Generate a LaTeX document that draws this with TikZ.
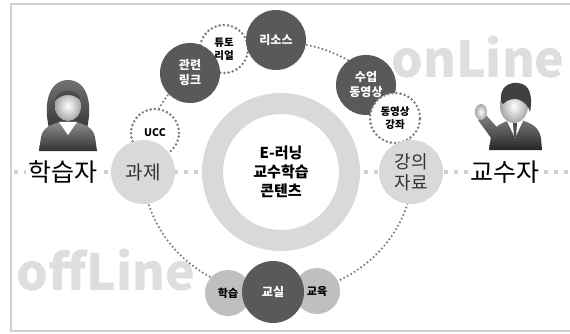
\documentclass[tikz,border=0pt]{standalone}
\usepackage{fontspec}
\setmainfont{Noto Sans CJK KR}
\usetikzlibrary{positioning}

\begin{document}
\begin{tikzpicture}[x=1pt,y=-1pt,
    darkball/.style={circle, fill=ballgrey, text=white, minimum size=60pt, inner sep=0pt, font=\fontsize{12}{15}\selectfont\bfseries, align=center},
    dotball/.style={circle, draw=dotgrey, fill=white, line width=2.8pt, line cap=round, dash pattern=on 0pt off 4.2pt, minimum size=48pt, inner sep=0pt, font=\fontsize{10.5}{13}\selectfont\bfseries, align=center},
    paleball/.style={circle, fill=palegrey, text=black!80, minimum size=64pt, inner sep=0pt, font=\fontsize{19}{21}\selectfont, align=center},
    smallball/.style={circle, fill=midgrey, minimum size=46pt, inner sep=0pt, font=\fontsize{11}{13}\selectfont\bfseries},
    person/.style={fill=white, inner sep=3pt, font=\fontsize{25}{25}\selectfont}]
    \definecolor{ballgrey}{RGB}{89,89,89}
    \definecolor{palegrey}{RGB}{217,217,217}
    \definecolor{midgrey}{RGB}{191,191,191}
    \definecolor{dotgrey}{RGB}{125,125,125}
    \definecolor{linegrey}{RGB}{208,208,208}
    \definecolor{wordgrey}{RGB}{222,222,222}

    \useasboundingbox (0,0) rectangle (570,334);

    % frame, open on the right
    \draw[linegrey, line width=1.2pt] (570,4) -- (11,4) -- (11,331) -- (570,331);

    \node[text=wordgrey, font=\fontsize{50}{50}\selectfont\bfseries] (online) at (478,57) {onLine};
    \node[text=wordgrey, font=\fontsize{50}{50}\selectfont\bfseries] (offline) at (106,270) {offLine};

    % axis between learner and teacher
    \coordinate (west) at (14,172);
    \coordinate (east) at (570,172);
    \draw[linegrey, line width=4pt, dash pattern=on 4pt off 6pt] (west) -- (east);

    % dotted orbit
    \draw[dotgrey, line width=2.4pt, line cap=round, dash pattern=on 0pt off 4pt] (278,168) ellipse [x radius=135pt, y radius=126pt];

    \node[circle, draw=palegrey, line width=21pt, fill=white, minimum size=137pt, inner sep=0pt, font=\fontsize{15}{19}\selectfont\bfseries, align=center] (core) at (281,172) {E-러닝\\교수학습\\콘텐츠};

    \node[dotball] (ucc) at (155,133) {UCC};
    \node[dotball] (tutorial) at (224,49) {튜토\\리얼};
    \node[darkball] (link) at (190,73) {관련\\링크};
    \node[darkball] (resource) at (276,40) {리소스};
    \node[darkball] (video) at (366,85) {수업\\동영상};
    \node[dotball, minimum size=50pt] (course) at (395,118) {동영상\\강좌};

    \node[paleball] (task) at (143,172) {과제};
    \node[paleball, font=\fontsize{18}{21}\selectfont] (material) at (411,172) {강의\\자료};

    \node[smallball] (study) at (228,293) {학습};
    \node[smallball] (teach) at (317,291) {교육};
    \node[darkball, minimum size=62pt] (room) at (273,292) {교실};

    \node[person] (learner) at (63,172) {학습자};
    \node[person] (teacher) at (505,172) {교수자};

    % learner figure
    \shade[top color=black!55, bottom color=black!80] (50,132) .. controls (42,104) and (49,80) .. (68,80) .. controls (87,80) and (94,104) .. (86,132) -- cycle;
    \shade[top color=black!45, bottom color=black!80] (39,151) -- (41,137) .. controls (43,127) and (52,124) .. (60,122) -- (76,122) .. controls (84,124) and (93,127) .. (95,137) -- (97,151) -- cycle;
    \fill[white] (59,122) -- (68,135) -- (77,122) -- cycle;
    \shade[inner color=white, outer color=black!35] (68,106) ellipse [x radius=13pt, y radius=15pt];
    \fill[black!70] (55,101) .. controls (57,87) and (79,87) .. (81,101) .. controls (74,93) and (62,93) .. cycle;

    % teacher figure
    \shade[top color=black!55, bottom color=black!85] (489,150) -- (491,136) .. controls (493,127) and (500,124) .. (507,121) -- (524,121) .. controls (533,124) and (539,128) .. (541,138) -- (542,150) -- cycle;
    \shade[top color=black!50, bottom color=black!75] (494,142) -- (478,120) -- (486,115) -- (503,134) -- cycle;
    \shade[inner color=white, outer color=black!35] (481,112) ellipse [x radius=6pt, y radius=8pt];
    \fill[white] (507,121) -- (515,138) -- (523,121) -- cycle;
    \fill[black!70] (513,123) -- (517,123) -- (516,137) -- (514,137) -- cycle;
    \shade[inner color=white, outer color=black!35] (514,106) ellipse [x radius=14pt, y radius=17pt];
    \fill[black!75] (501,102) .. controls (499,86) and (510,82) .. (518,83) .. controls (530,84) and (533,96) .. (530,112) .. controls (527,100) and (513,94) .. (503,104) -- cycle;
\end{tikzpicture}
\end{document}
